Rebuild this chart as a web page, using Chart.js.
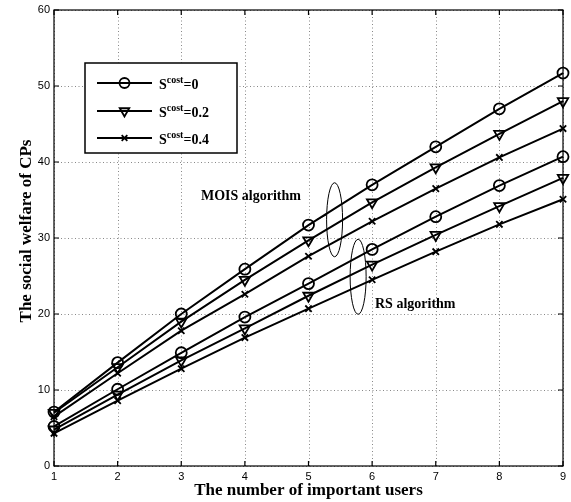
<!DOCTYPE html>
<html>
<head>
<meta charset="utf-8">
<script src="https://cdn.jsdelivr.net/npm/chart.js@4/dist/chart.umd.min.js"></script>
<style>
  html, body { margin: 0; padding: 0; background: #fff; }
  #wrap { width: 571px; height: 502px; position: relative; }
</style>
</head>
<body>
<div id="wrap"><canvas id="c"></canvas></div>
<script>
// === DATA ===
const users = [1, 2, 3, 4, 5, 6, 7, 8, 9];
const costLabels = ['0', '0.2', '0.4'];
const yTicks = [0, 10, 20, 30, 40, 50, 60];

const moisCost0  = [7.1, 13.6, 20.0, 25.9, 31.7, 37.0, 42.0, 47.0, 51.7];
const moisCost02 = [7.0, 13.0, 19.0, 24.5, 29.7, 34.7, 39.3, 43.7, 48.0];
const moisCost04 = [6.5, 12.2, 17.8, 22.6, 27.6, 32.2, 36.5, 40.6, 44.4];
const rsCost0    = [5.2, 10.1, 14.9, 19.6, 24.0, 28.5, 32.8, 36.9, 40.7];
const rsCost02   = [4.8, 9.4, 13.9, 18.1, 22.4, 26.5, 30.4, 34.2, 37.9];
const rsCost04   = [4.3, 8.6, 12.8, 16.9, 20.7, 24.5, 28.2, 31.8, 35.1];

const SERIF = '"Liberation Serif", "Times New Roman", serif';
const SANS = '"Liberation Sans", Arial, sans-serif';

// marker per cost value
const markers = [
  { pointStyle: 'circle',   pointRadius: 5.5, pointRotation: 0 },
  { pointStyle: 'triangle', pointRadius: 6,   pointRotation: 180 },
  { pointStyle: 'crossRot', pointRadius: 4.5, pointRotation: 0 }
];

function serie(data, i) {
  return {
    label: 'S^cost=' + costLabels[i],
    data,
    borderColor: '#000',
    borderWidth: 2,
    backgroundColor: 'rgba(0,0,0,0)',
    pointBorderColor: '#000',
    pointBorderWidth: 1.8,
    pointBackgroundColor: 'rgba(0,0,0,0)',
    pointHoverRadius: markers[i].pointRadius,
    ...markers[i]
  };
}

// === PLUGIN: rejilla punteada, marco, ticks interiores, leyenda, anotaciones ===
const extras = {
  id: 'extras',
  beforeDatasetsDraw(chart) {
    const { ctx, chartArea: a, scales: { x, y } } = chart;
    ctx.save();
    // rejilla
    ctx.strokeStyle = '#888';
    ctx.lineWidth = 1;
    ctx.setLineDash([1, 2.5]);
    ctx.beginPath();
    users.forEach((u, i) => {
      const px = Math.round(x.getPixelForValue(i)) + 0.5;
      ctx.moveTo(px, a.bottom); ctx.lineTo(px, a.top);
    });
    yTicks.forEach(v => {
      const py = Math.round(y.getPixelForValue(v)) + 0.5;
      ctx.moveTo(a.left, py); ctx.lineTo(a.right, py);
    });
    ctx.stroke();
    ctx.setLineDash([]);
    // marco
    ctx.strokeStyle = '#000';
    ctx.lineWidth = 1.2;
    ctx.strokeRect(a.left, a.top, a.right - a.left, a.bottom - a.top);
    ctx.beginPath();
    users.forEach((u, i) => {
      const px = x.getPixelForValue(i);
      ctx.moveTo(px, a.bottom); ctx.lineTo(px, a.bottom - 5);
      ctx.moveTo(px, a.top); ctx.lineTo(px, a.top + 5);
    });
    yTicks.forEach(v => {
      const py = y.getPixelForValue(v);
      ctx.moveTo(a.left, py); ctx.lineTo(a.left + 5, py);
      ctx.moveTo(a.right, py); ctx.lineTo(a.right - 5, py);
    });
    ctx.stroke();
    ctx.restore();
  },
  afterDraw(chart) {
    const { ctx, scales: { x, y } } = chart;
    ctx.save();
    ctx.fillStyle = '#000';
    ctx.strokeStyle = '#000';

    // titulo eje y
    ctx.save();
    ctx.translate(27, 231);
    ctx.rotate(-Math.PI / 2);
    ctx.font = 'bold 17px ' + SERIF;
    ctx.textAlign = 'center';
    ctx.textBaseline = 'middle';
    ctx.fillText('The social welfare of CPs', 0, 0);
    ctx.restore();

    // leyenda
    ctx.fillStyle = '#fff';
    ctx.fillRect(85, 63, 152, 90);
    ctx.lineWidth = 1.5;
    ctx.strokeRect(85, 63, 152, 90);
    const rows = [83, 111, 138];
    chart.data.datasets.slice(0, 3).forEach((ds, i) => {
      const ry = rows[i];
      ctx.lineWidth = 2;
      ctx.beginPath(); ctx.moveTo(97, ry); ctx.lineTo(152, ry); ctx.stroke();
      ctx.lineWidth = 1.8;
      ctx.fillStyle = 'rgba(0,0,0,0)';
      Chart.helpers.drawPoint(ctx, {
        pointStyle: ds.pointStyle, radius: ds.pointRadius - 0.5, rotation: ds.pointRotation, borderWidth: 1.8
      }, 124.5, ry);
      ctx.fillStyle = '#000';
      ctx.textBaseline = 'alphabetic';
      ctx.textAlign = 'left';
      ctx.font = 'bold 14px ' + SERIF;
      let tx = 159;
      ctx.fillText('S', tx, ry + 6);
      tx += ctx.measureText('S').width;
      ctx.font = 'bold 10px ' + SERIF;
      ctx.fillText('cost', tx, ry);
      tx += ctx.measureText('cost').width;
      ctx.font = 'bold 14px ' + SERIF;
      ctx.fillText('=' + costLabels[i], tx, ry + 6);
    });

    // anotaciones
    ctx.lineWidth = 1;
    ctx.beginPath();
    ctx.ellipse(x.getPixelForValue(4.41), y.getPixelForValue(32.4), 8, 37, 0, 0, Math.PI * 2);
    ctx.stroke();
    ctx.beginPath();
    ctx.ellipse(x.getPixelForValue(4.78), y.getPixelForValue(24.9), 8, 37.5, 0, 0, Math.PI * 2);
    ctx.stroke();
    ctx.beginPath();
    ctx.moveTo(316, 220); ctx.lineTo(326, 215);
    ctx.stroke();
    ctx.font = 'bold 14px ' + SERIF;
    ctx.textAlign = 'left';
    ctx.fillText('MOIS algorithm', 201, 200);
    ctx.fillText('RS algorithm', 375, 308);
    ctx.restore();
  }
};

new Chart(document.getElementById('c'), {
  type: 'line',
  data: {
    labels: users,
    datasets: [
      serie(moisCost0, 0), serie(moisCost02, 1), serie(moisCost04, 2),
      serie(rsCost0, 0), serie(rsCost02, 1), serie(rsCost04, 2)
    ]
  },
  options: {
    responsive: true,
    maintainAspectRatio: false,
    animation: false,
    events: [],
    layout: { padding: { top: 10, right: 8, left: 0, bottom: 0 } },
    plugins: { legend: { display: false }, tooltip: { enabled: false } },
    elements: { line: { tension: 0 } },
    scales: {
      x: {
        offset: false,
        grid: { display: false, drawTicks: false },
        border: { display: false },
        ticks: { color: '#000', font: { family: SANS, size: 11 }, padding: 4, maxRotation: 0 },
        title: { display: true, text: 'The number of important users', color: '#000',
                 font: { family: SERIF, size: 17, weight: 'bold' }, padding: { top: 0, bottom: 1 } },
        afterFit(s) { s.height = 36; s.paddingLeft = 0; s.paddingRight = 0; }
      },
      y: {
        min: 0, max: 60,
        ticks: { stepSize: 10, color: '#000', font: { family: SANS, size: 11 }, padding: 4 },
        grid: { display: false, drawTicks: false },
        border: { display: false },
        afterFit(s) { s.width = 54; s.paddingTop = 0; s.paddingBottom = 0; }
      }
    }
  },
  plugins: [extras]
});
</script>
</body>
</html>
